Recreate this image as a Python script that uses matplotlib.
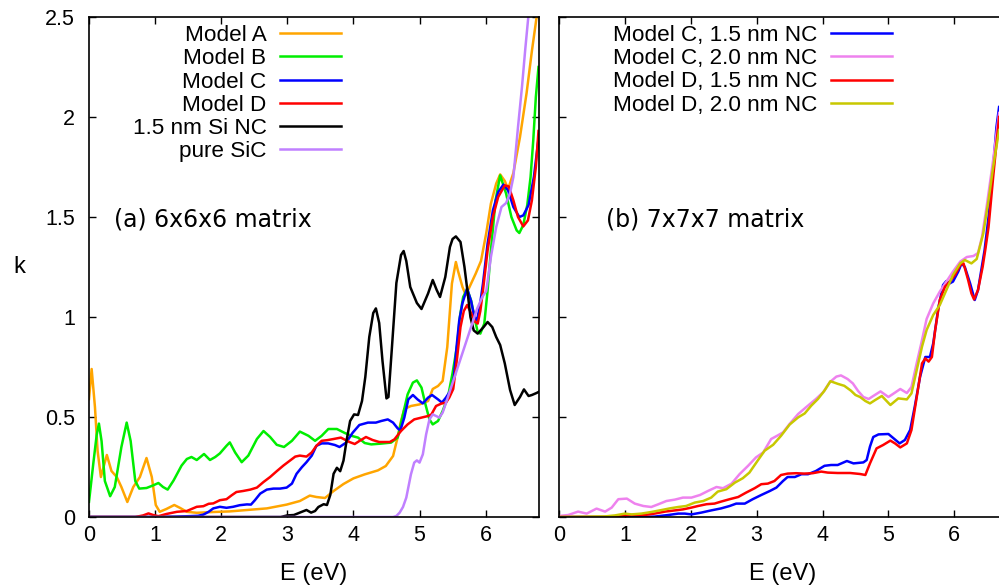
import matplotlib
matplotlib.use("Agg")
import matplotlib.pyplot as plt
from matplotlib.ticker import FuncFormatter

# ---- panel (a): 6x6x6 matrix, (E [eV], k) pairs ----
model_a = [(0, 0.59), (0.04, 0.74), (0.09, 0.55), (0.13, 0.33), (0.18, 0.20), (0.22, 0.25),
           (0.27, 0.31), (0.34, 0.23), (0.42, 0.20), (0.49, 0.15), (0.58, 0.075), (0.67, 0.15),
           (0.77, 0.20), (0.87, 0.295), (0.95, 0.20), (1.01, 0.06), (1.07, 0.026), (1.17, 0.04),
           (1.29, 0.06), (1.38, 0.045), (1.48, 0.026), (1.63, 0.021), (1.88, 0.025), (2.13, 0.028),
           (2.39, 0.035), (2.69, 0.043), (2.99, 0.062), (3.19, 0.08), (3.34, 0.107), (3.44, 0.10),
           (3.57, 0.095), (3.70, 0.13), (3.85, 0.165), (4.0, 0.193), (4.17, 0.213), (4.37, 0.233),
           (4.49, 0.255), (4.60, 0.305), (4.67, 0.40), (4.72, 0.48), (4.77, 0.54), (4.87, 0.555),
           (5.0, 0.563), (5.13, 0.58), (5.2, 0.64), (5.28, 0.655), (5.35, 0.68), (5.42, 0.85),
           (5.49, 1.167), (5.55, 1.275), (5.58, 1.233), (5.65, 1.15), (5.70, 1.11), (5.78, 1.167),
           (5.85, 1.217), (5.93, 1.28), (6.01, 1.42), (6.08, 1.567), (6.16, 1.667), (6.22, 1.713),
           (6.29, 1.68), (6.34, 1.64), (6.42, 1.72), (6.52, 1.90), (6.62, 2.12), (6.70, 2.33),
           (6.78, 2.52)]

model_b = [(0, 0.076), (0.066, 0.27), (0.116, 0.41), (0.15, 0.467), (0.19, 0.38), (0.24, 0.18),
           (0.32, 0.104), (0.39, 0.15), (0.49, 0.35), (0.57, 0.472), (0.63, 0.38), (0.70, 0.18),
           (0.76, 0.142), (0.87, 0.145), (0.97, 0.158), (1.05, 0.17), (1.12, 0.15), (1.19, 0.137),
           (1.28, 0.183), (1.40, 0.257), (1.48, 0.29), (1.55, 0.30), (1.63, 0.285), (1.74, 0.315),
           (1.83, 0.285), (1.91, 0.30), (1.98, 0.318), (2.08, 0.356), (2.13, 0.373), (2.21, 0.323),
           (2.31, 0.274), (2.41, 0.307), (2.54, 0.39), (2.64, 0.43), (2.74, 0.40), (2.84, 0.361),
           (2.95, 0.35), (3.07, 0.381), (3.19, 0.427), (3.32, 0.406), (3.42, 0.381), (3.52, 0.406),
           (3.62, 0.44), (3.75, 0.44), (3.87, 0.42), (3.98, 0.405), (4.07, 0.397), (4.17, 0.37),
           (4.27, 0.363), (4.42, 0.367), (4.57, 0.372), (4.67, 0.397), (4.75, 0.513), (4.82, 0.613),
           (4.90, 0.672), (4.96, 0.683), (5.03, 0.647), (5.09, 0.563), (5.15, 0.488), (5.2, 0.463),
           (5.28, 0.48), (5.35, 0.53), (5.43, 0.60), (5.50, 0.72), (5.57, 0.86), (5.61, 1.0),
           (5.66, 1.1), (5.72, 1.14), (5.78, 1.083), (5.83, 1.0), (5.88, 0.925), (5.92, 0.917),
           (5.98, 0.967), (6.03, 1.133), (6.08, 1.333), (6.15, 1.583), (6.22, 1.708), (6.31, 1.617),
           (6.39, 1.5), (6.47, 1.433), (6.51, 1.42), (6.57, 1.46), (6.63, 1.56), (6.68, 1.70),
           (6.72, 1.88), (6.76, 2.1), (6.80, 2.25)]

model_c = [(0, 0), (0.5, 0), (1.0, 0), (1.3, 0.002), (1.5, 0.004), (1.65, 0.006), (1.73, 0.012),
           (1.81, 0.026), (1.88, 0.043), (1.98, 0.051), (2.08, 0.046), (2.18, 0.051), (2.28, 0.059),
           (2.39, 0.063), (2.45, 0.062), (2.51, 0.084), (2.59, 0.117), (2.69, 0.137), (2.79, 0.142),
           (2.89, 0.142), (2.99, 0.147), (3.07, 0.167), (3.14, 0.216), (3.22, 0.249), (3.29, 0.274),
           (3.37, 0.307), (3.44, 0.356), (3.52, 0.368), (3.62, 0.368), (3.72, 0.36), (3.79, 0.35),
           (3.89, 0.372), (3.99, 0.422), (4.09, 0.46), (4.22, 0.472), (4.34, 0.472), (4.42, 0.48),
           (4.52, 0.488), (4.60, 0.472), (4.67, 0.443), (4.71, 0.433), (4.77, 0.497), (4.83, 0.588),
           (4.90, 0.61), (4.97, 0.588), (5.05, 0.568), (5.13, 0.597), (5.19, 0.61), (5.28, 0.588),
           (5.34, 0.572), (5.40, 0.597), (5.48, 0.638), (5.52, 0.70), (5.56, 0.85), (5.60, 0.98),
           (5.65, 1.07), (5.72, 1.142), (5.78, 1.08), (5.83, 1.0), (5.87, 0.985), (5.91, 1.05),
           (5.96, 1.167), (6.03, 1.367), (6.11, 1.533), (6.19, 1.625), (6.27, 1.662), (6.34, 1.633),
           (6.42, 1.55), (6.51, 1.50), (6.57, 1.508), (6.65, 1.56), (6.73, 1.70), (6.80, 1.89)]

model_d = [(0, 0), (0.7, 0), (0.82, 0.008), (0.9, 0.018), (0.97, 0.01), (1.05, 0.004), (1.17, 0.015),
           (1.33, 0.026), (1.48, 0.03), (1.63, 0.051), (1.73, 0.054), (1.81, 0.066), (1.88, 0.068),
           (1.98, 0.084), (2.08, 0.089), (2.16, 0.109), (2.23, 0.125), (2.33, 0.13), (2.44, 0.137),
           (2.54, 0.147), (2.64, 0.175), (2.74, 0.20), (2.84, 0.229), (2.94, 0.257), (3.04, 0.282),
           (3.12, 0.302), (3.19, 0.307), (3.29, 0.302), (3.37, 0.323), (3.44, 0.356), (3.52, 0.381),
           (3.60, 0.384), (3.70, 0.39), (3.81, 0.397), (3.94, 0.375), (4.02, 0.365), (4.09, 0.38),
           (4.19, 0.40), (4.29, 0.385), (4.39, 0.375), (4.55, 0.375), (4.62, 0.388), (4.72, 0.43),
           (4.82, 0.463), (4.92, 0.488), (5.03, 0.497), (5.13, 0.505), (5.18, 0.513), (5.25, 0.555),
           (5.33, 0.567), (5.40, 0.572), (5.45, 0.597), (5.51, 0.64), (5.57, 0.80), (5.62, 0.95),
           (5.67, 1.03), (5.72, 1.06), (5.78, 1.02), (5.84, 0.977), (5.88, 0.967), (5.92, 1.03),
           (5.96, 1.133), (6.03, 1.333), (6.11, 1.5), (6.19, 1.6), (6.29, 1.658), (6.35, 1.653),
           (6.42, 1.583), (6.49, 1.5), (6.57, 1.453), (6.64, 1.483), (6.70, 1.583), (6.76, 1.75),
           (6.80, 1.93)]

si_nc = [(0, 0), (2.9, 0), (3.0, 0.008), (3.1, 0.01), (3.22, 0.026), (3.29, 0.035), (3.36, 0.022),
         (3.42, 0.03), (3.47, 0.05), (3.55, 0.064), (3.60, 0.06), (3.65, 0.11), (3.70, 0.216),
         (3.75, 0.246), (3.80, 0.229), (3.85, 0.282), (3.90, 0.389), (3.95, 0.48), (4.01, 0.513),
         (4.07, 0.51), (4.13, 0.58), (4.18, 0.70), (4.24, 0.90), (4.30, 1.02), (4.34, 1.043),
         (4.39, 0.97), (4.44, 0.78), (4.50, 0.593), (4.53, 0.60), (4.58, 0.835), (4.65, 1.17),
         (4.72, 1.31), (4.76, 1.33), (4.80, 1.28), (4.86, 1.15), (4.96, 1.07), (5.03, 1.04),
         (5.13, 1.118), (5.20, 1.185), (5.26, 1.135), (5.31, 1.10), (5.39, 1.20), (5.46, 1.35),
         (5.50, 1.39), (5.55, 1.403), (5.62, 1.375), (5.68, 1.25), (5.73, 1.117), (5.77, 1.0),
         (5.82, 0.933), (5.88, 0.917), (5.97, 0.95), (6.03, 0.975), (6.10, 0.95), (6.16, 0.9),
         (6.22, 0.86), (6.29, 0.768), (6.37, 0.635), (6.44, 0.56), (6.52, 0.60), (6.58, 0.638),
         (6.65, 0.605), (6.70, 0.61), (6.77, 0.62), (6.80, 0.625)]

pure_sic = [(0, 0), (4.6, 0), (4.65, 0.005), (4.70, 0.022), (4.75, 0.05), (4.80, 0.097), (4.87, 0.213),
            (4.92, 0.272), (4.96, 0.283), (5.0, 0.272), (5.05, 0.313), (5.10, 0.413), (5.15, 0.488),
            (5.20, 0.513), (5.25, 0.505), (5.30, 0.497), (5.35, 0.522), (5.40, 0.57), (5.45, 0.62),
            (5.55, 0.72), (5.66, 0.83), (5.76, 0.93), (5.87, 1.04), (5.95, 1.10), (6.01, 1.13),
            (6.08, 1.30), (6.16, 1.45), (6.24, 1.55), (6.31, 1.57), (6.37, 1.62), (6.42, 1.70),
            (6.49, 1.95), (6.55, 2.15), (6.60, 2.34), (6.66, 2.55)]

# ---- panel (b): 7x7x7 matrix ----
c_15nm = [(0, 0), (1.2, 0), (1.45, 0.002), (1.66, 0.01), (1.81, 0.017), (1.91, 0.017), (2.01, 0.013),
          (2.16, 0.022), (2.31, 0.033), (2.46, 0.043), (2.59, 0.055), (2.69, 0.067), (2.82, 0.067),
          (2.94, 0.089), (3.07, 0.11), (3.20, 0.13), (3.30, 0.147), (3.40, 0.18), (3.47, 0.20),
          (3.58, 0.20), (3.68, 0.214), (3.78, 0.214), (3.90, 0.23), (4.03, 0.256), (4.13, 0.26),
          (4.23, 0.26), (4.30, 0.27), (4.37, 0.28), (4.47, 0.268), (4.62, 0.273), (4.67, 0.285),
          (4.72, 0.352), (4.77, 0.40), (4.85, 0.413), (5.0, 0.415), (5.08, 0.393), (5.17, 0.368),
          (5.25, 0.385), (5.33, 0.435), (5.40, 0.552), (5.48, 0.70), (5.56, 0.80), (5.63, 0.80),
          (5.68, 0.868), (5.76, 1.05), (5.83, 1.16), (5.88, 1.18), (5.93, 1.168), (5.98, 1.177),
          (6.06, 1.227), (6.11, 1.268), (6.16, 1.25), (6.24, 1.168), (6.31, 1.085), (6.36, 1.135),
          (6.41, 1.235), (6.46, 1.335), (6.52, 1.50), (6.59, 1.75), (6.64, 1.95), (6.68, 2.05)]

c_20nm = [(0, 0.005), (0.14, 0.01), (0.29, 0.027), (0.42, 0.017), (0.57, 0.042), (0.70, 0.027),
          (0.80, 0.047), (0.90, 0.089), (1.03, 0.092), (1.15, 0.067), (1.28, 0.055), (1.40, 0.05),
          (1.51, 0.064), (1.63, 0.08), (1.76, 0.087), (1.88, 0.097), (2.01, 0.097), (2.14, 0.11),
          (2.26, 0.13), (2.39, 0.15), (2.49, 0.144), (2.62, 0.167), (2.74, 0.214), (2.87, 0.256),
          (2.99, 0.298), (3.10, 0.323), (3.22, 0.39), (3.31, 0.406), (3.40, 0.423), (3.50, 0.465),
          (3.63, 0.515), (3.78, 0.557), (3.90, 0.59), (4.01, 0.624), (4.11, 0.674), (4.21, 0.702),
          (4.28, 0.708), (4.38, 0.69), (4.46, 0.668), (4.54, 0.63), (4.62, 0.60), (4.70, 0.59),
          (4.77, 0.605), (4.88, 0.628), (5.0, 0.60), (5.10, 0.622), (5.18, 0.64), (5.28, 0.62),
          (5.35, 0.65), (5.43, 0.77), (5.50, 0.87), (5.58, 0.99), (5.68, 1.068), (5.78, 1.127),
          (5.88, 1.177), (5.98, 1.227), (6.09, 1.277), (6.19, 1.30), (6.29, 1.305), (6.36, 1.32),
          (6.42, 1.40), (6.49, 1.55), (6.59, 1.785), (6.68, 2.02)]

d_15nm = [(0, 0), (0.7, 0), (0.90, 0.005), (1.10, 0.01), (1.30, 0.01), (1.45, 0.017), (1.61, 0.027),
          (1.76, 0.033), (1.88, 0.038), (2.01, 0.047), (2.11, 0.055), (2.24, 0.064), (2.36, 0.067),
          (2.46, 0.077), (2.59, 0.089), (2.72, 0.10), (2.84, 0.122), (2.97, 0.144), (3.07, 0.164),
          (3.17, 0.167), (3.27, 0.18), (3.37, 0.21), (3.47, 0.217), (3.60, 0.219), (3.72, 0.217),
          (3.85, 0.219), (3.98, 0.227), (4.08, 0.222), (4.23, 0.22), (4.42, 0.22), (4.57, 0.215),
          (4.65, 0.21), (4.72, 0.268), (4.82, 0.343), (4.92, 0.36), (5.03, 0.382), (5.10, 0.368),
          (5.18, 0.348), (5.28, 0.368), (5.35, 0.435), (5.43, 0.60), (5.51, 0.768), (5.56, 0.793),
          (5.61, 0.777), (5.66, 0.80), (5.71, 0.935), (5.78, 1.085), (5.86, 1.152), (5.93, 1.177),
          (6.01, 1.21), (6.09, 1.26), (6.14, 1.268), (6.21, 1.185), (6.26, 1.118), (6.30, 1.088),
          (6.36, 1.135), (6.43, 1.25), (6.47, 1.335), (6.52, 1.45), (6.59, 1.70), (6.68, 2.0)]

d_20nm = [(0, 0), (0.44, 0.002), (0.70, 0.003), (0.85, 0.008), (1.0, 0.017), (1.10, 0.013),
          (1.25, 0.017), (1.40, 0.025), (1.56, 0.035), (1.68, 0.043), (1.81, 0.05), (1.93, 0.055),
          (2.06, 0.072), (2.19, 0.08), (2.31, 0.097), (2.41, 0.127), (2.54, 0.139), (2.67, 0.172),
          (2.79, 0.194), (2.89, 0.222), (3.02, 0.284), (3.12, 0.331), (3.25, 0.361), (3.37, 0.406),
          (3.50, 0.462), (3.63, 0.498), (3.73, 0.518), (3.83, 0.557), (3.93, 0.59), (4.03, 0.632),
          (4.12, 0.679), (4.23, 0.666), (4.33, 0.656), (4.43, 0.632), (4.50, 0.61), (4.57, 0.60),
          (4.65, 0.58), (4.72, 0.568), (4.80, 0.585), (4.90, 0.605), (5.03, 0.56), (5.15, 0.593),
          (5.28, 0.588), (5.35, 0.618), (5.43, 0.735), (5.51, 0.852), (5.58, 0.935), (5.68, 1.01),
          (5.78, 1.06), (5.88, 1.135), (5.98, 1.21), (6.09, 1.268), (6.16, 1.285), (6.26, 1.268),
          (6.34, 1.29), (6.44, 1.418), (6.52, 1.585), (6.59, 1.75), (6.68, 1.935)]

series_a = [("Model A", model_a, "#ffa500"),
            ("Model B", model_b, "#00ee00"),
            ("Model C", model_c, "#0000ff"),
            ("Model D", model_d, "#ff0000"),
            ("1.5 nm Si NC", si_nc, "#000000"),
            ("pure SiC", pure_sic, "#c080ff")]
series_b = [("Model C, 1.5 nm NC", c_15nm, "#0000ff"),
            ("Model C, 2.0 nm NC", c_20nm, "#ee82ee"),
            ("Model D, 1.5 nm NC", d_15nm, "#ff0000"),
            ("Model D, 2.0 nm NC", d_20nm, "#c8c800")]

plt.rcParams['font.family'] = ['Liberation Sans', 'DejaVu Sans']

W, H = 999, 588
fig = plt.figure(figsize=(W / 100, H / 100), dpi=100)
# axes boxes in pixels: left panel 89..538, right panel 559..1007 (cut by the image edge)
ax1 = fig.add_axes([89 / W, 71 / H, 449.5 / W, 500 / H])
ax2 = fig.add_axes([559 / W, 71 / H, 448 / W, 500 / H])

fmt = FuncFormatter(lambda v, p: f"{v:g}")

for ax, series, tag, leg_x in [(ax1, series_a, "(a) 6x6x6 matrix", 0.561),
                               (ax2, series_b, "(b) 7x7x7 matrix", 0.743)]:
    for label, pts, col in series:
        e = [p[0] for p in pts]
        k = [p[1] for p in pts]
        ax.plot(e, k, color=col, lw=1.8, label=label, solid_joinstyle='round')
    ax.set_xlim(0, 6.8)
    ax.set_ylim(0, 2.5)
    ax.set_xticks(range(0, 7))
    ax.set_yticks([0, 0.5, 1, 1.5, 2, 2.5])
    ax.xaxis.set_major_formatter(fmt)
    ax.yaxis.set_major_formatter(fmt)
    ax.tick_params(direction='in', length=5, width=1.0, labelsize=15.5, top=True, right=True)
    ax.tick_params(axis='x', pad=6)
    ax.tick_params(axis='y', pad=10)
    for s in ax.spines.values():
        s.set_linewidth(1.2)
    ax.set_xlabel("E (eV)", fontsize=17)
    ax.xaxis.set_label_coords(0.5, -0.092)
    leg = ax.legend(loc='upper right', bbox_to_anchor=(leg_x, 0.984), frameon=False,
                    markerfirst=False, fontsize=16.2, handlelength=2.7, handletextpad=0.62,
                    labelspacing=0.1, borderpad=0, borderaxespad=0)
    ax.text(0.056 if ax is ax1 else 0.106, 0.594, tag, transform=ax.transAxes,
            fontsize=17, family='DejaVu Sans', va='center', ha='left')

ax2.tick_params(labelleft=False)
ax1.set_ylabel("k", fontsize=17, rotation=0, va='center', ha='center')
ax1.yaxis.set_label_coords(-0.156, 0.5)

fig.savefig("out.png", dpi=100)
